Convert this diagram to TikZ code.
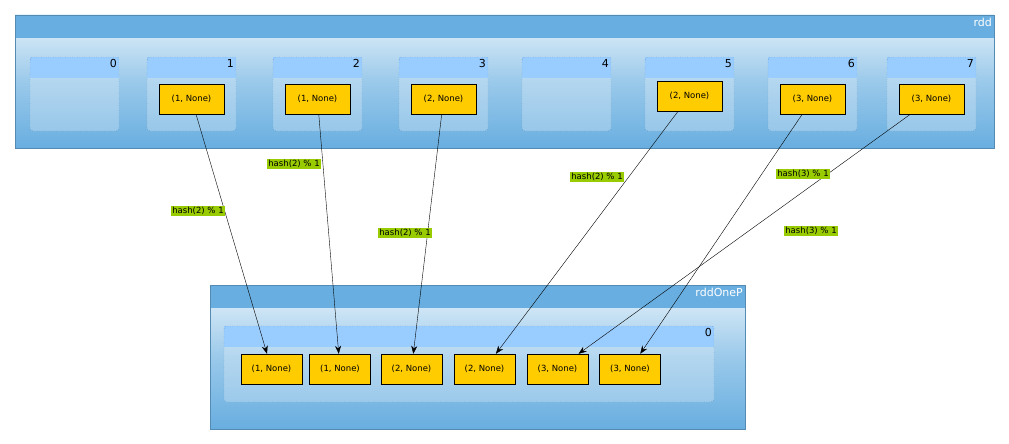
\documentclass[tikz,border=0pt]{standalone}
\usepackage{fontspec}
\setmainfont{DejaVu Sans}
\usetikzlibrary{arrows.meta}
\definecolor{hdr}{HTML}{68AEE0}
\definecolor{light}{HTML}{E6F2FA}
\definecolor{phdr}{HTML}{99CCFF}
\definecolor{item}{HTML}{FFCC00}
\definecolor{lbl}{HTML}{99CC00}
\begin{document}
\begin{tikzpicture}[x=1pt,y=-1pt,
 item/.style={draw=black,fill=item,minimum width=#1,minimum height=30pt,inner sep=0pt,font=\fontsize{8.5}{10}\selectfont},
 item/.default=65pt,
 lab/.style={fill=lbl,inner sep=1.5pt,font=\fontsize{8.5}{10}\selectfont},
 arr/.style={-{Stealth[length=8pt,width=6pt]},black},
 ttl/.style={anchor=north east,inner sep=2pt,font=\fontsize{11}{12}\selectfont}]
\useasboundingbox (0,0) rectangle (1009,444);
\newcommand{\myouter}[5]{%
 \shade[top color=light,bottom color=hdr,middle color=light!40!hdr] (#1,#3) rectangle (#2,#4);
 \fill[hdr] (#1,#3) rectangle (#2,#3+23);
 \draw[hdr!80!black] (#1,#3) rectangle (#2,#4);
 \node[ttl,text=white] at (#2,#3+1) {#5};}
\newcommand{\mypart}[5]{%
 \fill[white,opacity=0.25,rounded corners=3pt] (#1,#3) rectangle (#2,#4);
 \fill[phdr] (#1,#3) rectangle (#2,#3+21);
 \draw[hdr!70!black,dotted,rounded corners=3pt] (#1,#3) rectangle (#2,#4);
 \node[ttl] at (#2,#3) {#5};}
\myouter{15}{994}{15}{148}{rdd}
\mypart{30}{119}{57}{131}{0}
\mypart{147}{236}{57}{131}{1}
\mypart{273}{362}{57}{131}{2}
\mypart{399}{488}{57}{131}{3}
\mypart{522}{611}{57}{131}{4}
\mypart{645}{734}{57}{131}{5}
\mypart{768}{857}{57}{131}{6}
\mypart{887}{976}{57}{131}{7}
\myouter{210}{745}{285}{429}{rddOneP}
\mypart{224}{714}{326}{402}{0}
\node[item] (a1) at (191.5,99) {(1, None)};
\node[item] (a2) at (317.5,99) {(1, None)};
\node[item] (a3) at (443.5,99) {(2, None)};
\node[item] (a5) at (689.5,96) {(2, None)};
\node[item] (a6) at (812.5,99) {(3, None)};
\node[item] (a7) at (931.5,99) {(3, None)};
\node[item=61pt] (b1) at (271.5,369) {(1, None)};
\node[item=61pt] (b2) at (340,369) {(1, None)};
\node[item=61pt] (b3) at (411.5,369) {(2, None)};
\node[item=61pt] (b4) at (484.5,369) {(2, None)};
\node[item=61pt] (b5) at (557.5,369) {(3, None)};
\node[item=61pt] (b6) at (630,369) {(3, None)};
\draw[arr] (a1) -- (b1);
\draw[arr] (a2) -- (b2);
\draw[arr] (a3) -- (b3);
\draw[arr] (a5) -- (b4);
\draw[arr] (a7) -- (b5);
\draw[arr] (a6) -- (b6);
\node[lab] (l1) at (198,211) {hash(2) \% 1};
\node[lab] (l2) at (294,164) {hash(2) \% 1};
\node[lab] (l3) at (405,233) {hash(2) \% 1};
\node[lab] (l4) at (597,177) {hash(2) \% 1};
\node[lab] (l5) at (803,174) {hash(3) \% 1};
\node[lab] (l6) at (811,231) {hash(3) \% 1};
\end{tikzpicture}
\end{document}
